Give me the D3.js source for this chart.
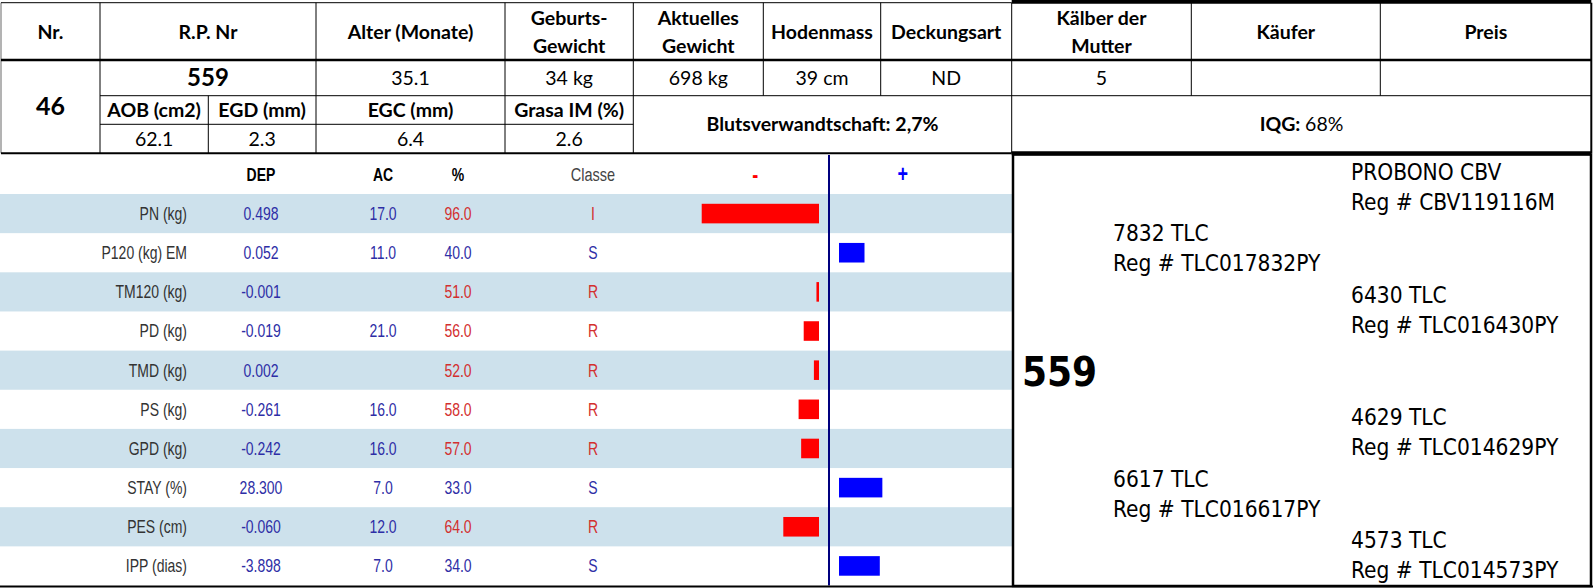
<!DOCTYPE html>
<html>
<head>
<meta charset="utf-8">
<script src="https://cdn.jsdelivr.net/npm/d3@7"></script>
<style>
  body { margin: 0; background: #fff; }
  svg { display: block; }
  .calibri { font-family: Lato, "Open Sans", sans-serif; fill: #000; }
  .arial { font-family: "Liberation Sans", Arial, sans-serif; }
  .ped { font-family: "DejaVu Sans Condensed", "DejaVu Sans", sans-serif; fill: #000; }
</style>
</head>
<body>
<div id="chart"></div>
<script>
// header table
var headLabels = ['Nr.', 'R.P. Nr', 'Alter (Monate)', 'Geburts-|Gewicht', 'Aktuelles|Gewicht',
    'Hodenmass', 'Deckungsart', 'Kälber der|Mutter', 'Käufer', 'Preis'];
var headValues = ['46', '559', '35.1', '34 kg', '698 kg', '39 cm', 'ND', '5', '', ''];
var carcassLabels = ['AOB (cm2)', 'EGD (mm)', 'EGC (mm)', 'Grasa IM (%)'];
var carcassValues = ['62.1', '2.3', '6.4', '2.6'];
var blutsverwandtschaft = '2,7%';
var iqg = '68%';

// DEP table
var traits = ['PN (kg)', 'P120 (kg) EM', 'TM120 (kg)', 'PD (kg)', 'TMD (kg)',
    'PS (kg)', 'GPD (kg)', 'STAY (%)', 'PES (cm)', 'IPP (dias)'];
var dep = ['0.498', '0.052', '-0.001', '-0.019', '0.002', '-0.261', '-0.242', '28.300', '-0.060', '-3.898'];
var ac = ['17.0', '11.0', '', '21.0', '', '16.0', '16.0', '7.0', '12.0', '7.0'];
var pct = [96.0, 40.0, 51.0, 56.0, 52.0, 58.0, 57.0, 33.0, 64.0, 34.0];
var classe = ['I', 'S', 'R', 'R', 'R', 'R', 'R', 'S', 'R', 'S'];

// pedigree
var animal = '559';
var pedNames = ['PROBONO CBV', '7832 TLC', '6430 TLC', '4629 TLC', '6617 TLC', '4573 TLC'];
var pedRegs = ['CBV119116M', 'TLC017832PY', 'TLC016430PY', 'TLC014629PY', 'TLC016617PY', 'TLC014573PY'];
var pedGen = [2, 1, 2, 2, 1, 2];

var W = 1593, H = 588;
var BLUE = '#2e2ea6', RED = '#d32f2f';

var svg = d3.select('#chart').append('svg')
    .attr('width', W)
    .attr('height', H);

// ---------- top table ----------
var colX = [1, 100, 316, 505, 633.3, 763.3, 880.7, 1011.7, 1191.3, 1380.3, 1591.3];
var rowY = [2.7, 60, 95.7, 124.3, 153.3];
var subX = [100, 208.3, 316, 505, 633.3];
var topT = svg.append('g').attr('class', 'top-table');

function hline(g, x1, x2, yy, w) {
    g.append('line').attr('x1', x1).attr('x2', x2).attr('y1', yy).attr('y2', yy)
	    .attr('stroke', '#000').attr('stroke-width', w);
}
function vline(g, x, y1, y2, w) {
    g.append('line').attr('x1', x).attr('x2', x).attr('y1', y1).attr('y2', y2)
	    .attr('stroke', '#000').attr('stroke-width', w);
}

hline(topT, colX[0], colX[7], rowY[0], 1);
hline(topT, colX[7], colX[10], rowY[0] - 1, 4);
hline(topT, colX[0], colX[10], rowY[1], 2.5);
hline(topT, colX[1], colX[10], rowY[2], 1);
hline(topT, colX[1], colX[4], rowY[3], 1);
hline(topT, colX[0], colX[7], rowY[4], 2);
hline(topT, colX[7], colX[10], rowY[4], 4);
[0, 1, 2, 3, 4, 7, 10].forEach(function (i) {
    vline(topT, colX[i], rowY[0], rowY[4], i === 0 ? 0.6 : (i === 10 ? 2 : 1));
});
[5, 6, 8, 9].forEach(function (i) {
    vline(topT, colX[i], rowY[0], rowY[2], 1);
});
vline(topT, subX[1], rowY[2], rowY[4], 1);

function cellText(g, txt, cx, cy, size, weight) {
    var lines = txt.split('|');
    var t = g.append('text').attr('class', 'calibri')
	    .attr('text-anchor', 'middle')
	    .style('font-size', size + 'px')
	    .style('font-weight', weight);
    lines.forEach(function (l, i) {
	t.append('tspan').attr('x', cx)
		.attr('y', cy + (i - (lines.length - 1) / 2) * 28)
		.attr('dy', '0.35em')
		.text(l);
    });
    return t;
}

headLabels.forEach(function (lab, i) {
    cellText(topT, lab, (colX[i] + colX[i + 1]) / 2, (rowY[0] + rowY[1]) / 2 + 1, 19.5, 700);
});
headValues.forEach(function (v, i) {
    if (i === 0) {
	cellText(topT, v, (colX[0] + colX[1]) / 2, 106, 25, 700);
    } else if (i === 1) {
	cellText(topT, v, (colX[1] + colX[2]) / 2, (rowY[1] + rowY[2]) / 2, 24, 700);
    } else {
	cellText(topT, v, (colX[i] + colX[i + 1]) / 2, (rowY[1] + rowY[2]) / 2, 19.5, 400);
    }
});
carcassLabels.forEach(function (lab, i) {
    cellText(topT, lab, (subX[i] + subX[i + 1]) / 2, (rowY[2] + rowY[3]) / 2, 19.5, 700);
});
carcassValues.forEach(function (v, i) {
    cellText(topT, v, (subX[i] + subX[i + 1]) / 2, (rowY[3] + rowY[4]) / 2, 19.5, 400);
});
cellText(topT, 'Blutsverwandtschaft: ' + blutsverwandtschaft,
	(colX[4] + colX[7]) / 2, (rowY[2] + rowY[4]) / 2, 19.5, 700);
var iq = topT.append('text').attr('class', 'calibri')
	.attr('x', (colX[7] + colX[10]) / 2)
	.attr('y', (rowY[2] + rowY[4]) / 2)
	.attr('dy', '0.35em')
	.attr('text-anchor', 'middle')
	.style('font-size', '19.5px');
iq.append('tspan').style('font-weight', 700).text('IQG: ');
iq.append('tspan').text(iqg);

// ---------- DEP table with bars ----------
var tableTop = 155, rowsTop = 194, rowsBottom = 585.5, leftW = 1012;
var y = d3.scaleBand()
	.domain(traits)
	.range([rowsTop, rowsBottom])
	.padding(0);
var bh = y.bandwidth();

var centerX = 829, gap = 10;
// distance of percentile from 50 sets the bar length
var xNeg = d3.scaleLinear().domain([0, 50]).range([centerX - gap, centerX - gap - 127.5]);
var xPos = d3.scaleLinear().domain([0, 50]).range([centerX + gap, centerX + gap + 127.5]);

var dt = svg.append('g').attr('class', 'dep-table');

dt.selectAll('rect.band')
	.data(traits.filter(function (d, i) { return i % 2 === 0; }))
	.join('rect')
	.attr('class', 'band')
	.attr('x', 0)
	.attr('y', function (d) { return y(d); })
	.attr('width', leftW)
	.attr('height', bh)
	.attr('fill', '#cde1ec');

var colDEP = 261, colAC = 383, colPct = 458, colCls = 593, colLab = 187;
var stretch = 1.3; // the source text is drawn taller than wide

function stretchedText(g, txt, x, yy, anchor, size, weight, fill) {
    return g.append('text').attr('class', 'arial')
	    .attr('transform', 'translate(' + x + ',' + yy + ') scale(1,' + stretch + ')')
	    .attr('text-anchor', anchor)
	    .attr('dy', '0.35em')
	    .style('font-size', size + 'px')
	    .style('font-weight', weight)
	    .attr('fill', fill)
	    .text(txt);
}

var headY = (tableTop + rowsTop) / 2;
stretchedText(dt, 'DEP', colDEP, headY, 'middle', 14, 700, '#000');
stretchedText(dt, 'AC', colAC, headY, 'middle', 14, 700, '#000');
stretchedText(dt, '%', colPct, headY, 'middle', 14, 700, '#000');
stretchedText(dt, 'Classe', colCls, headY, 'middle', 14.5, 400, '#444');
stretchedText(dt, '-', (xNeg(0) + xNeg(50)) / 2, headY, 'middle', 18, 700, '#ff0000');
stretchedText(dt, '+', (xPos(0) + xPos(50)) / 2, headY - 1, 'middle', 18, 700, '#0000ff');

traits.forEach(function (t, i) {
    var cy = y(t) + bh / 2;
    var c = pct[i] > 50 ? RED : BLUE;
    stretchedText(dt, t, colLab, cy, 'end', 14, 400, '#333');
    stretchedText(dt, dep[i], colDEP, cy, 'middle', 14, 400, BLUE);
    stretchedText(dt, ac[i], colAC, cy, 'middle', 14, 400, BLUE);
    stretchedText(dt, pct[i].toFixed(1), colPct, cy, 'middle', 14, 400, c);
    stretchedText(dt, classe[i], colCls, cy, 'middle', 14, 400, c);
});

dt.selectAll('rect.bar')
	.data(traits)
	.join('rect')
	.attr('class', 'bar')
	.attr('x', function (d, i) {
	    var v = pct[i] - 50;
	    return v > 0 ? xNeg(v) : xPos(0);
	})
	.attr('y', function (d) { return y(d) + bh * 0.25; })
	.attr('width', function (d, i) {
	    var v = pct[i] - 50;
	    return v > 0 ? xNeg(0) - xNeg(v) : xPos(-v) - xPos(0);
	})
	.attr('height', bh * 0.5)
	.attr('fill', function (d, i) { return pct[i] > 50 ? '#ff0000' : '#0000ff'; });

dt.append('line')
	.attr('x1', centerX).attr('x2', centerX)
	.attr('y1', tableTop).attr('y2', rowsBottom)
	.attr('stroke', '#00007f').attr('stroke-width', 2);

hline(dt, 0, W, 586.5, 2);

// ---------- pedigree box ----------
var pb = svg.append('g').attr('class', 'pedigree');
pb.append('rect')
	.attr('x', 1013).attr('y', 154.5)
	.attr('width', 578).attr('height', 431.5)
	.attr('fill', 'none')
	.attr('stroke', '#000').attr('stroke-width', 2.5);

var slots = d3.scalePoint().domain(d3.range(7)).range([188, 556]);
var genX = {1: 1113, 2: 1351};
pb.append('text').attr('class', 'ped')
	.attr('x', 1022).attr('y', slots(3) + 14)
	.style('font-size', '40px').style('font-weight', 700)
	.text(animal);
pedNames.forEach(function (n, i) {
    var slot = i < 3 ? i : i + 1;
    var cy = slots(slot);
    pb.append('text').attr('class', 'ped')
	    .attr('x', genX[pedGen[i]]).attr('y', cy - 8)
	    .style('font-size', '22.5px')
	    .text(n);
    pb.append('text').attr('class', 'ped')
	    .attr('x', genX[pedGen[i]]).attr('y', cy + 22)
	    .style('font-size', '22.5px')
	    .text('Reg # ' + pedRegs[i]);
});
</script>
</body>
</html>
